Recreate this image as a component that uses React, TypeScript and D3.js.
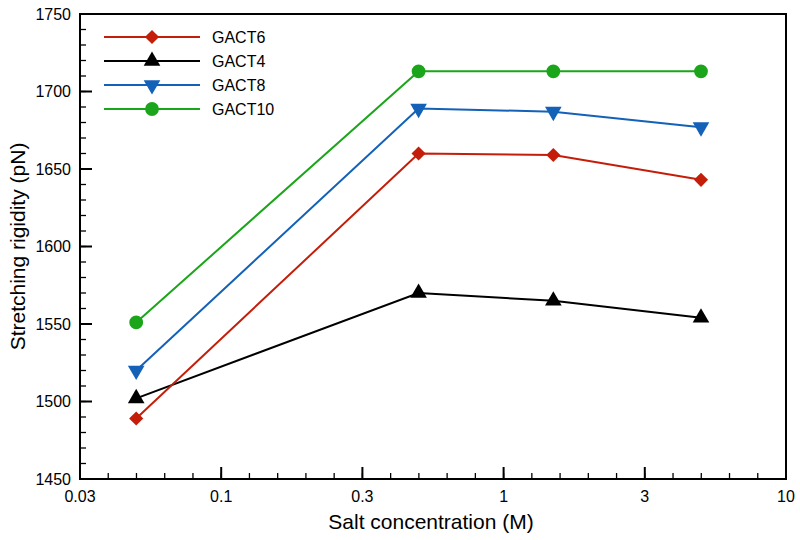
import { useRef, useEffect } from 'react'
import { select, scaleLog, scaleLinear, line, symbol, symbolSquare, symbolTriangle, symbolCircle, range } from 'd3'

// salt concentration (M)
const salt = [0.05, 0.5, 1.5, 5]

const gact6 = [1489, 1660, 1659, 1643]
const gact4 = [1502, 1570, 1565, 1554]
const gact8 = [1520, 1689, 1687, 1677]
const gact10 = [1551, 1713, 1713, 1713]

const seriesNames = ['GACT6', 'GACT4', 'GACT8', 'GACT10']
const seriesColors = ['#c41e0a', '#000000', '#1461b8', '#1aa51a']
const seriesMarkers = ['diamond', 'triangleUp', 'triangleDown', 'circle']

const xTickVals = [Math.pow(10, -1.5), 0.1, Math.pow(10, -0.5), 1, Math.pow(10, 0.5), 10]
const xTickLabels = ['0.03', '0.1', '0.3', '1', '3', '10']
const yTicks = [1450, 1500, 1550, 1600, 1650, 1700, 1750]

const W = 800
const H = 540
const margin = { left: 80, right: 14, top: 14, bottom: 61 }
const FONT = '"Liberation Sans", Arial, Helvetica, sans-serif'

const markerPath = (kind: string) => {
  if (kind === 'diamond') return symbol(symbolSquare, 100)()
  if (kind === 'circle') return symbol(symbolCircle, 150)()
  return symbol(symbolTriangle, 120)()
}

const markerRotate = (kind: string) => {
  if (kind === 'diamond') return ' rotate(45)'
  if (kind === 'triangleDown') return ' rotate(180)'
  return ''
}

const App = () => {
  const svgRef = useRef<SVGSVGElement>(null)

  useEffect(() => {
    const svg = select(svgRef.current)
    svgRef.current!.innerHTML = ''

    const x0 = margin.left
    const x1 = W - margin.right
    const y0 = H - margin.bottom
    const y1 = margin.top

    const xScale = scaleLog().domain([Math.pow(10, -1.5), 10]).range([x0, x1])
    const yScale = scaleLinear().domain([1450, 1750]).range([y0, y1])

    // minor ticks
    const xMinor = range(0, 26).map(k => Math.pow(10, -1.5 + k * 0.1))
    const yMinor = range(1450, 1751, 10)

    const g = svg.append('g')

    g.selectAll('.xminor')
      .data(xMinor)
      .join('line')
      .attr('x1', d => xScale(d)).attr('x2', d => xScale(d))
      .attr('y1', y0).attr('y2', y0 - 6)
      .attr('stroke', '#000').attr('stroke-width', 1.3)

    g.selectAll('.xmajor')
      .data(xTickVals)
      .join('line')
      .attr('x1', d => xScale(d)).attr('x2', d => xScale(d))
      .attr('y1', y0).attr('y2', y0 - 12)
      .attr('stroke', '#000').attr('stroke-width', 2)

    g.selectAll('.yminor')
      .data(yMinor)
      .join('line')
      .attr('x1', x0).attr('x2', x0 + 6)
      .attr('y1', d => yScale(d)).attr('y2', d => yScale(d))
      .attr('stroke', '#000').attr('stroke-width', 1.3)

    g.selectAll('.ymajor')
      .data(yTicks)
      .join('line')
      .attr('x1', x0).attr('x2', x0 + 12)
      .attr('y1', d => yScale(d)).attr('y2', d => yScale(d))
      .attr('stroke', '#000').attr('stroke-width', 2)

    // frame
    g.append('rect')
      .attr('x', x0).attr('y', y1)
      .attr('width', x1 - x0).attr('height', y0 - y1)
      .attr('fill', 'none').attr('stroke', '#000').attr('stroke-width', 2)

    // tick labels
    g.selectAll('.xlab')
      .data(xTickVals)
      .join('text')
      .attr('x', d => xScale(d))
      .attr('y', y0 + 23)
      .attr('text-anchor', 'middle')
      .style('font-family', FONT).style('font-size', '16px')
      .text((d, i) => xTickLabels[i])

    g.selectAll('.ylab')
      .data(yTicks)
      .join('text')
      .attr('x', x0 - 9)
      .attr('y', d => yScale(d) + 5.5)
      .attr('text-anchor', 'end')
      .style('font-family', FONT).style('font-size', '16px')
      .text(d => d)

    // axis titles
    g.append('text')
      .attr('x', 431)
      .attr('y', 529)
      .attr('text-anchor', 'middle')
      .style('font-family', FONT).style('font-size', '21px')
      .text('Salt concentration (M)')

    g.append('text')
      .attr('transform', `translate(25, ${(y0 + y1) / 2}) rotate(-90)`)
      .attr('text-anchor', 'middle')
      .style('font-family', FONT).style('font-size', '21px')
      .text('Stretching rigidity (pN)')

    const allSeries = [gact6, gact4, gact8, gact10]
    const lineGen = line<number>().x((d, i) => xScale(salt[i])).y(d => yScale(d))

    // draw in order so green on top
    const order = [1, 0, 2, 3]
    order.forEach(si => {
      const vals = allSeries[si]
      const color = seriesColors[si]
      g.append('path')
        .attr('d', lineGen(vals))
        .attr('fill', 'none')
        .attr('stroke', color)
        .attr('stroke-width', 2)
      g.selectAll(`.m${si}`)
        .data(vals)
        .join('path')
        .attr('d', markerPath(seriesMarkers[si]))
        .attr('transform', (d, i) =>
          `translate(${xScale(salt[i])},${yScale(d)})` + markerRotate(seriesMarkers[si]))
        .attr('fill', color)
    })

    // legend
    const legend = g.append('g')
    seriesNames.forEach((name, i) => {
      const ly = 37 + i * 24
      legend.append('line')
        .attr('x1', 104).attr('x2', 200)
        .attr('y1', ly).attr('y2', ly)
        .attr('stroke', seriesColors[i]).attr('stroke-width', 2)
      legend.append('path')
        .attr('d', markerPath(seriesMarkers[i]))
        .attr('transform', `translate(152,${ly})` + markerRotate(seriesMarkers[i]))
        .attr('fill', seriesColors[i])
      legend.append('text')
        .attr('x', 212).attr('y', ly + 6)
        .style('font-family', FONT).style('font-size', '16px')
        .text(name)
    })
  }, [])

  return (
    <div style={{ position: 'absolute', left: 0, top: 0 }}>
      <svg ref={svgRef} width={W} height={H} style={{ display: 'block', background: '#fff' }} />
    </div>
  )
}

export default App
